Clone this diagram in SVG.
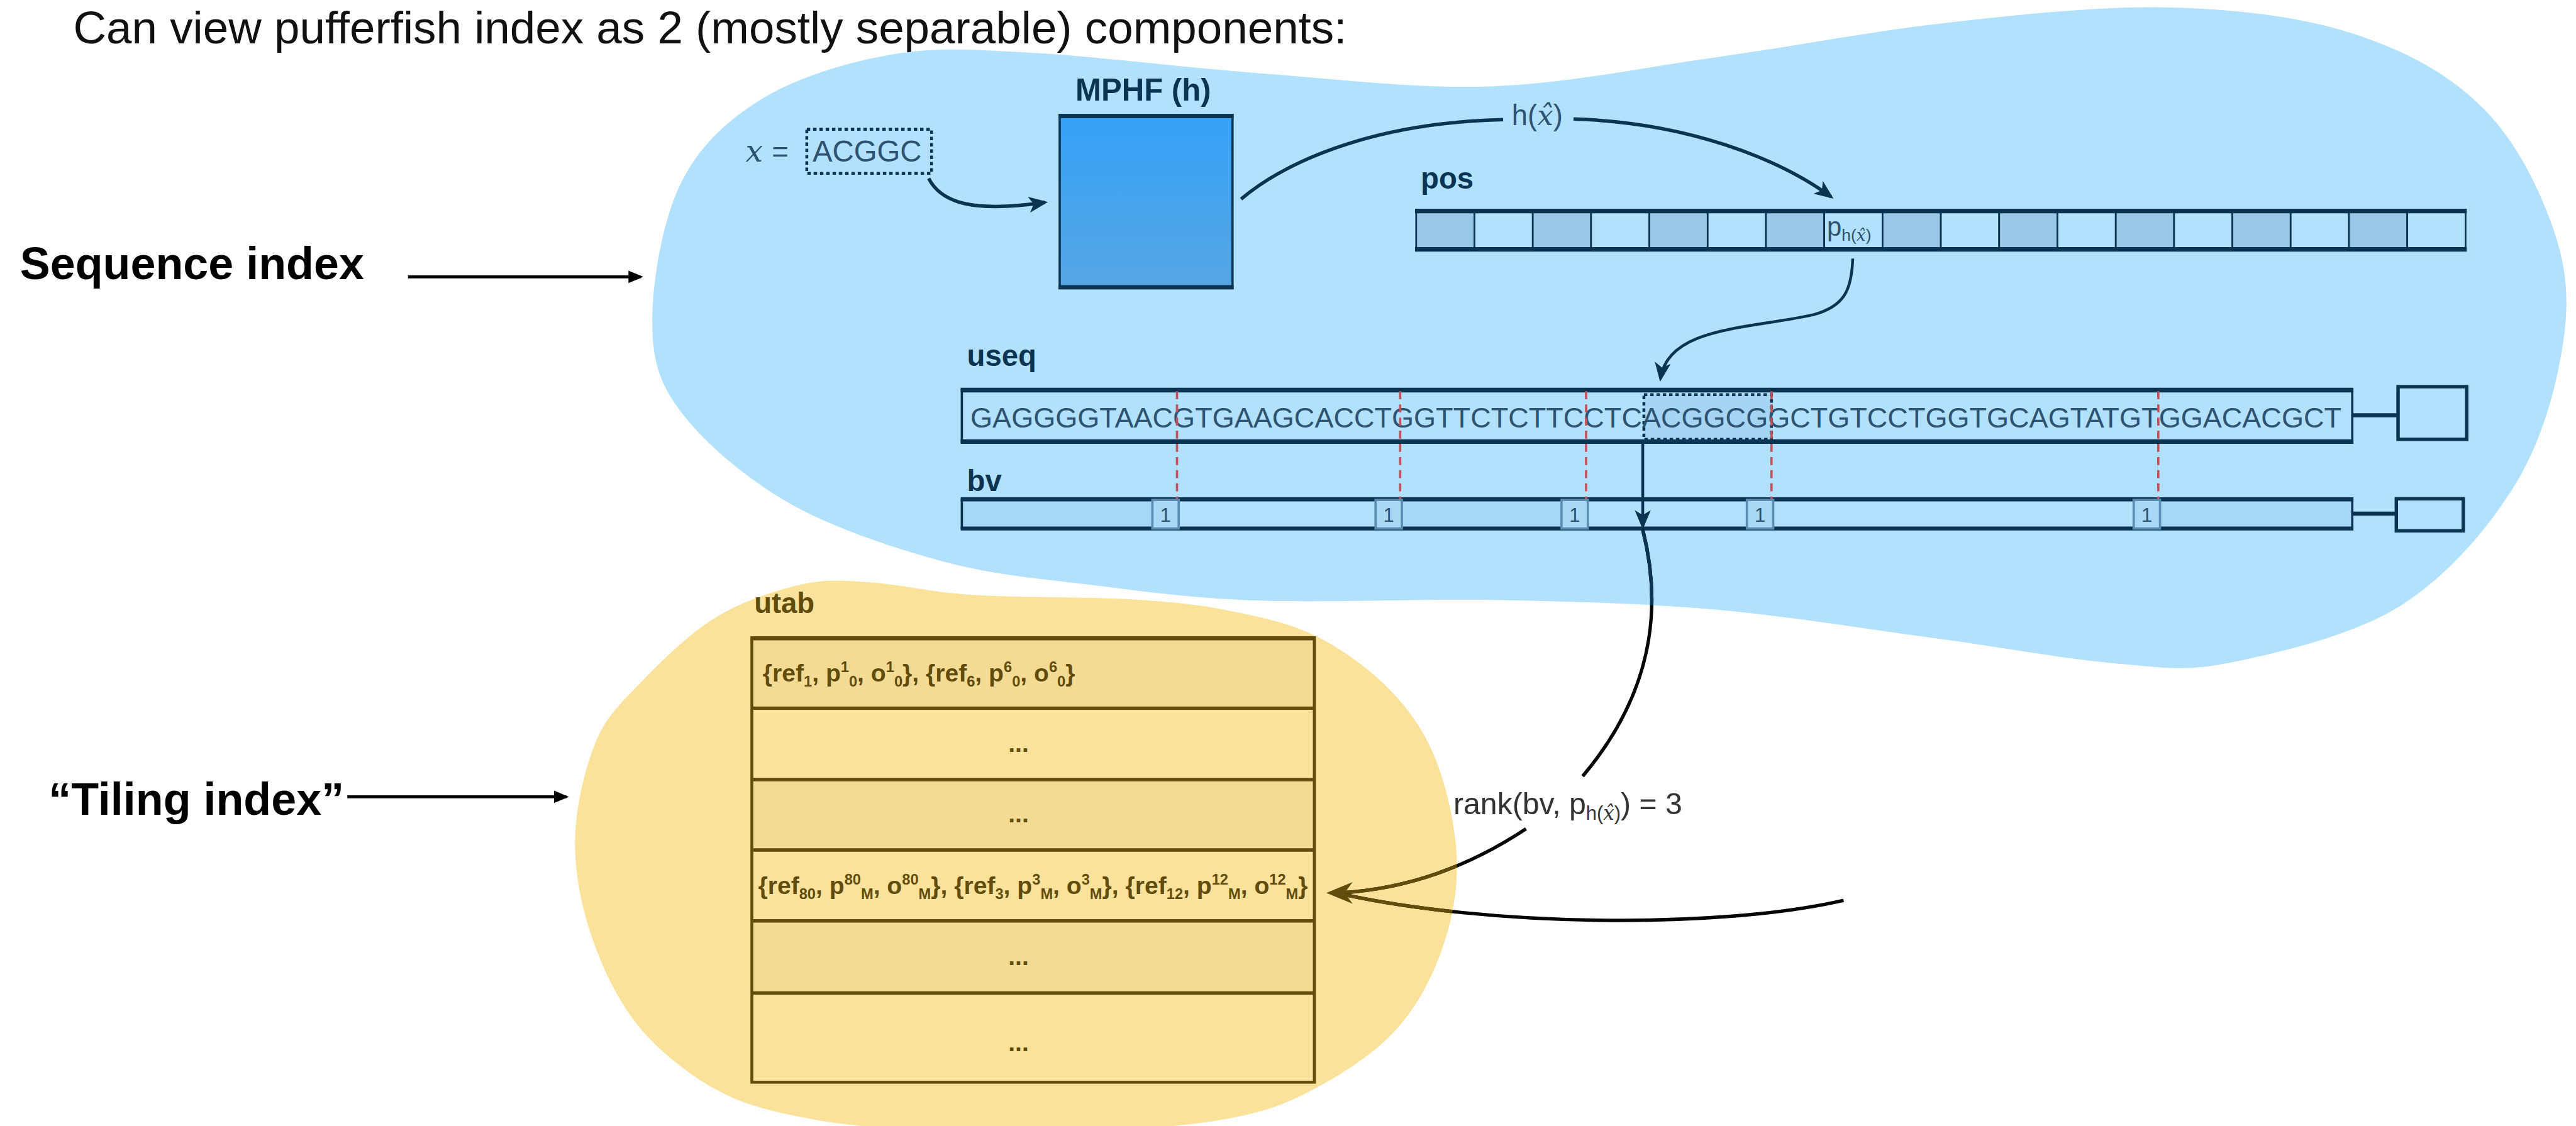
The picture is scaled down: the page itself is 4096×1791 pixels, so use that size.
<svg xmlns="http://www.w3.org/2000/svg" xmlns:xlink="http://www.w3.org/1999/xlink" width="4096" height="1791" viewBox="0 0 4096 1791">
  <style>
    .sans { font-family: 'Liberation Sans', Arial, sans-serif; }
    .bold { font-family: 'Liberation Sans', Arial, sans-serif; font-weight: 700; }
    .mi { font-family: 'DejaVu Serif', 'Liberation Serif', serif; font-style: italic; }
    .navy { fill: #0b3452; }
    .thin { font-family: 'Liberation Sans', Arial, sans-serif; fill: #2d5272; }
    .brown { fill: #614c0c; }
    .cell { font-family: 'Liberation Sans', Arial, sans-serif; font-weight: 700; font-size: 43px; fill: #614c0c; }
    .s { font-size: 26px; }
    .pos-dark { fill: #99c8e6; stroke: #0b3452; stroke-width: 3; }
    .pos-light { fill: #b2e1fb; stroke: #0b3452; stroke-width: 3; }
    .bv-dark { fill: #a6d7f4; }
    .bv-light { fill: #b2e1fc; }
    .one-box { fill: #a8d8f4; stroke: #5b8db4; stroke-width: 4; }
    .one { font-family: 'Liberation Sans', Arial, sans-serif; font-size: 34px; fill: #2d5272; text-anchor: middle; }
    .split { stroke: #c4505a; stroke-width: 4; stroke-dasharray: 14 9; fill: none; }
    .edge-navy { stroke: #0b3452; fill: none; }
    .row-dark { fill: #f4db94; }
    .row-light { fill: #fae29b; }
    .dots { font-family: 'Liberation Sans', Arial, sans-serif; font-weight: 700; font-size: 43px; fill: #614c0c; text-anchor: middle; }
  </style>
  <defs>
    <!-- outline of the sequence-index region -->
    <path id="blobBluePath" d="M 1140,560 C 1140,493.3 1157.8,384.7 1190,320 C 1222.2,255.3 1271.3,209.5 1333,172 C 1394.7,134.5 1482.2,108.3 1560,95 C 1637.8,81.7 1693.3,86.5 1800,92 C 1906.7,97.5 2065.8,118.2 2200,128 C 2334.2,137.8 2471.7,155.7 2605,151 C 2738.3,146.3 2867.5,118.5 3000,100 C 3132.5,81.5 3269.2,54.5 3400,40 C 3530.8,25.5 3668.3,10.5 3785,13 C 3901.7,15.5 4009.2,27.2 4100,55 C 4190.8,82.8 4270,122.5 4330,180 C 4389.2,234.2 4429.7,313.3 4455,380 C 4480.3,446.7 4491.2,503.3 4482,580 C 4472.8,656.7 4447.5,760.3 4400,840 C 4352.5,919.7 4280.3,1005 4197,1058 C 4113.7,1111 3982.8,1141 3900,1158 C 3817.2,1175 3786.2,1167 3700,1160 C 3613.8,1153 3499.7,1131.7 3383,1116 C 3266.3,1100.3 3127.2,1077.2 3000,1066 C 2872.8,1054.8 2753.3,1051.7 2620,1049 C 2486.7,1046.3 2318.2,1054.3 2200,1050 C 2081.8,1045.7 2002.7,1034.3 1911,1023 C 1819.3,1011.7 1738.5,1005.8 1650,982 C 1561.5,958.2 1456.7,923.7 1380,880 C 1303.3,836.3 1230,773.3 1190,720 C 1150,666.7 1140,626.7 1140,560 Z"/>
    <!-- outline of the tiling-index region -->
    <path id="blobYellowPath" d="M 1005,1470 C 1005.8,1413.3 1021.5,1345.5 1040,1300 C 1058.5,1254.5 1081,1233.7 1116,1197 C 1151,1160.3 1202.7,1109.2 1250,1080 C 1297.3,1050.8 1355,1032.3 1400,1022 C 1445,1011.7 1470,1015 1520,1018 C 1570,1021 1623.3,1035 1700,1040 C 1776.7,1045 1905,1043.3 1980,1048 C 2055,1052.7 2096.7,1057.3 2150,1068 C 2203.3,1078.7 2253.3,1088.8 2300,1112 C 2346.7,1135.2 2395,1170.7 2430,1207 C 2465,1243.3 2490.7,1280.7 2510,1330 C 2529.3,1379.3 2544.3,1448 2546,1503 C 2547.7,1558 2537.7,1610.5 2520,1660 C 2502.3,1709.5 2476.7,1759.7 2440,1800 C 2403.3,1840.3 2348.3,1876.2 2300,1902 C 2251.7,1927.8 2216.7,1942.3 2150,1955 C 2083.3,1967.7 1991.7,1974.7 1900,1978 C 1808.3,1981.3 1683.3,1979.2 1600,1975 C 1516.7,1970.8 1458.3,1964.8 1400,1953 C 1341.7,1941.2 1297.3,1930.5 1250,1904 C 1202.7,1877.5 1151.8,1838 1116,1794 C 1080.2,1750 1053.5,1694 1035,1640 C 1016.5,1586 1004.2,1526.7 1005,1470 Z"/>
    <clipPath id="clipBlue"><use xlink:href="#blobBluePath"/></clipPath>
    <clipPath id="clipYellow"><use xlink:href="#blobYellowPath"/></clipPath>
    <linearGradient id="mphfFill" x1="0" y1="0" x2="0" y2="1">
      <stop offset="0" stop-color="#36a2f7"/>
      <stop offset="1" stop-color="#56a5e2"/>
    </linearGradient>
    <marker id="ahNavy" viewBox="0 0 12 10" refX="10" refY="5" markerWidth="34" markerHeight="28" markerUnits="userSpaceOnUse" orient="auto">
      <path d="M0,0 L12,5 L0,10 L3,5 Z" fill="#0b3452"/>
    </marker>
    <marker id="ahBlack" viewBox="0 0 12 10" refX="10" refY="5" markerWidth="26" markerHeight="24" markerUnits="userSpaceOnUse" orient="auto">
      <path d="M0,0 L12,5 L0,10 Z" fill="#000"/>
    </marker>
    <!-- connector curves whose colour changes inside each region -->
    <path id="cRankA" d="M 2871,926 C 2905,1060 2890,1210 2766,1357"/>
    <path id="cRankB" d="M 2667,1449 C 2560,1520 2450,1555 2340,1561"/>
    <path id="cLookup" d="M 3222,1574 C 3000,1625 2600,1620 2340,1562"/>
  </defs>

  <rect x="0" y="0" width="4096" height="1791" fill="#ffffff"/>

  <g transform="scale(0.909818)">
    <!-- heading -->
    <g id="title">
      <text class="sans" x="128" y="76" font-size="80" fill="#111">Can view pufferfish index as 2 (mostly separable) components:</text>
    </g>

    <!-- regions -->
    <g id="region-sequence-index">
      <use xlink:href="#blobBluePath" fill="#b1e1fc"/>
    </g>
    <g id="region-tiling-index">
      <use xlink:href="#blobYellowPath" fill="#fae29b"/>
    </g>

    <!-- side labels -->
    <g id="label-sequence-index">
      <text class="bold" x="35" y="488" font-size="79" fill="#000">Sequence index</text>
    </g>
    <g id="label-tiling-index">
      <text class="bold" x="85" y="1425" font-size="79" fill="#000">“Tiling index”</text>
    </g>

    <!-- query k-mer -->
    <g id="node-query">
      <text class="mi" x="1303" y="283" font-size="54" fill="#2d5272">x</text>
      <text class="thin" x="1349" y="283" font-size="50">=</text>
      <rect x="1410" y="226" width="218" height="77" fill="none" stroke="#0b3452" stroke-width="5" stroke-dasharray="6 5"/>
      <text class="thin" x="1420" y="283" font-size="52">ACGGC</text>
    </g>

    <!-- minimal perfect hash function -->
    <g id="node-mphf">
      <text class="bold navy" x="1998" y="176" font-size="54" text-anchor="middle">MPHF (h)</text>
      <rect x="1852" y="201" width="302" height="303" fill="url(#mphfFill)" stroke="#0b3452" stroke-width="4"/>
      <line x1="1850" y1="203" x2="2156" y2="203" stroke="#0b3452" stroke-width="7"/>
      <line x1="1850" y1="502" x2="2156" y2="502" stroke="#0b3452" stroke-width="7"/>
    </g>

    <!-- hash value label on the MPHF -> pos edge -->
    <g id="label-hash">
      <text class="thin" x="2642" y="219" font-size="50">h(<tspan class="mi">x̂</tspan>)</text>
    </g>

    <!-- pos array -->
    <g id="node-pos">
      <text class="bold navy" x="2483" y="330" font-size="52">pos</text>
      <rect class="pos-dark" x="2475.0" y="368" width="101.9" height="69"/>
      <rect class="pos-light" x="2576.9" y="368" width="101.9" height="69"/>
      <rect class="pos-dark" x="2678.8" y="368" width="101.9" height="69"/>
      <rect class="pos-light" x="2780.7" y="368" width="101.9" height="69"/>
      <rect class="pos-dark" x="2882.6" y="368" width="101.9" height="69"/>
      <rect class="pos-light" x="2984.4" y="368" width="101.9" height="69"/>
      <rect class="pos-dark" x="3086.3" y="368" width="101.9" height="69"/>
      <rect class="pos-light" x="3188.2" y="368" width="101.9" height="69"/>
      <rect class="pos-dark" x="3290.1" y="368" width="101.9" height="69"/>
      <rect class="pos-light" x="3392.0" y="368" width="101.9" height="69"/>
      <rect class="pos-dark" x="3493.9" y="368" width="101.9" height="69"/>
      <rect class="pos-light" x="3595.8" y="368" width="101.9" height="69"/>
      <rect class="pos-dark" x="3697.7" y="368" width="101.9" height="69"/>
      <rect class="pos-light" x="3799.6" y="368" width="101.9" height="69"/>
      <rect class="pos-dark" x="3901.4" y="368" width="101.9" height="69"/>
      <rect class="pos-light" x="4003.3" y="368" width="101.9" height="69"/>
      <rect class="pos-dark" x="4105.2" y="368" width="101.9" height="69"/>
      <rect class="pos-light" x="4207.1" y="368" width="101.9" height="69"/>
      <line x1="2473" y1="369" x2="4311" y2="369" stroke="#0b3452" stroke-width="8"/>
      <line x1="2473" y1="436" x2="4311" y2="436" stroke="#0b3452" stroke-width="8"/>
      <text class="thin" x="3193" y="412" font-size="46">p<tspan font-size="29" dy="9">h(<tspan class="mi">x̂</tspan>)</tspan></text>
    </g>

    <!-- unitig sequence -->
    <g id="node-useq">
      <text class="bold navy" x="1690" y="640" font-size="52">useq</text>
      <rect x="1681" y="681" width="2430" height="92" fill="#b2e1fc" stroke="#0b3452" stroke-width="4"/>
      <line x1="1679" y1="682" x2="4113" y2="682" stroke="#0b3452" stroke-width="8"/>
      <line x1="1679" y1="772" x2="4113" y2="772" stroke="#0b3452" stroke-width="8"/>
      <rect x="2873" y="690" width="223" height="78" fill="#a5d5f2" stroke="#0b3452" stroke-width="5" stroke-dasharray="6 5"/>
      <text class="thin" x="1696" y="747" font-size="49.5" textLength="2396" lengthAdjust="spacing">GAGGGGTAACGTGAAGCACCTGGTTCTCTTCCTCACGGCGGCTGTCCTGGTGCAGTATGTGGACACGCT</text>
      <line x1="4111" y1="726" x2="4191" y2="726" stroke="#0b3452" stroke-width="7"/>
      <rect x="4191" y="676" width="120" height="92" fill="none" stroke="#0b3452" stroke-width="6"/>
    </g>

    <!-- boundary bit vector -->
    <g id="node-bv">
      <text class="bold navy" x="1690" y="858" font-size="52">bv</text>
      <rect class="bv-dark" x="1681" y="872" width="333" height="53"/>
      <rect class="bv-light" x="2060" y="872" width="344" height="53"/>
      <rect class="bv-dark" x="2450" y="872" width="279" height="53"/>
      <rect class="bv-light" x="2775" y="872" width="278" height="53"/>
      <rect class="bv-light" x="3099" y="872" width="630" height="53"/>
      <rect class="bv-dark" x="3775" y="872" width="336" height="53"/>
      <line x1="1681" y1="872" x2="1681" y2="925" stroke="#0b3452" stroke-width="4"/>
      <line x1="4111" y1="872" x2="4111" y2="925" stroke="#0b3452" stroke-width="4"/>
      <line x1="1679" y1="873" x2="4113" y2="873" stroke="#0b3452" stroke-width="7"/>
      <line x1="1679" y1="924" x2="4113" y2="924" stroke="#0b3452" stroke-width="7"/>
      <g>
        <line class="split" x1="2057" y1="684" x2="2057" y2="925"/>
        <line class="split" x1="2447" y1="684" x2="2447" y2="925"/>
        <line class="split" x1="2772" y1="684" x2="2772" y2="925"/>
        <line class="split" x1="3096" y1="684" x2="3096" y2="925"/>
        <line class="split" x1="3772" y1="684" x2="3772" y2="925"/>
      </g>
      <rect class="one-box" x="2014" y="874" width="46" height="50"/>
      <rect class="one-box" x="2404" y="874" width="46" height="50"/>
      <rect class="one-box" x="2729" y="874" width="46" height="50"/>
      <rect class="one-box" x="3053" y="874" width="46" height="50"/>
      <rect class="one-box" x="3729" y="874" width="46" height="50"/>
      <text class="one" x="2037" y="912">1</text>
      <text class="one" x="2427" y="912">1</text>
      <text class="one" x="2752" y="912">1</text>
      <text class="one" x="3076" y="912">1</text>
      <text class="one" x="3752" y="912">1</text>
      <line x1="4111" y1="898" x2="4188" y2="898" stroke="#0b3452" stroke-width="7"/>
      <rect x="4188" y="872" width="117" height="56" fill="none" stroke="#0b3452" stroke-width="6"/>
    </g>

    <!-- unitig table -->
    <g id="node-utab">
      <text class="bold brown" x="1318" y="1072" font-size="50">utab</text>
      <rect class="row-dark" x="1314" y="1115" width="983" height="123"/>
      <rect class="row-light" x="1314" y="1238" width="983" height="125"/>
      <rect class="row-dark" x="1314" y="1363" width="983" height="123"/>
      <rect class="row-light" x="1314" y="1486" width="983" height="124"/>
      <rect class="row-dark" x="1314" y="1610" width="983" height="126"/>
      <rect class="row-light" x="1314" y="1736" width="983" height="156"/>
      <rect x="1314" y="1115" width="983" height="777" fill="none" stroke="#614c0c" stroke-width="5"/>
      <line x1="1312" y1="1116" x2="2299" y2="1116" stroke="#614c0c" stroke-width="7"/>
      <line x1="1314" y1="1238" x2="2297" y2="1238" stroke="#614c0c" stroke-width="6"/>
      <line x1="1314" y1="1363" x2="2297" y2="1363" stroke="#614c0c" stroke-width="6"/>
      <line x1="1314" y1="1486" x2="2297" y2="1486" stroke="#614c0c" stroke-width="6"/>
      <line x1="1314" y1="1610" x2="2297" y2="1610" stroke="#614c0c" stroke-width="6"/>
      <line x1="1314" y1="1736" x2="2297" y2="1736" stroke="#614c0c" stroke-width="6"/>
      <text class="cell" x="1333" y="1191">{ref<tspan class="s" dy="9">1</tspan><tspan dy="-9">, p</tspan><tspan class="s" dy="-16">1</tspan><tspan class="s" dy="25">0</tspan><tspan dy="-9">, o</tspan><tspan class="s" dy="-16">1</tspan><tspan class="s" dy="25">0</tspan><tspan dy="-9">}, {ref</tspan><tspan class="s" dy="9">6</tspan><tspan dy="-9">, p</tspan><tspan class="s" dy="-16">6</tspan><tspan class="s" dy="25">0</tspan><tspan dy="-9">, o</tspan><tspan class="s" dy="-16">6</tspan><tspan class="s" dy="25">0</tspan><tspan dy="-9">}</tspan></text>
      <text class="dots" x="1780" y="1314">...</text>
      <text class="dots" x="1780" y="1438">...</text>
      <text class="cell" x="1325" y="1563">{ref<tspan class="s" dy="9">80</tspan><tspan dy="-9">, p</tspan><tspan class="s" dy="-16">80</tspan><tspan class="s" dy="25">M</tspan><tspan dy="-9">, o</tspan><tspan class="s" dy="-16">80</tspan><tspan class="s" dy="25">M</tspan><tspan dy="-9">}, {ref</tspan><tspan class="s" dy="9">3</tspan><tspan dy="-9">, p</tspan><tspan class="s" dy="-16">3</tspan><tspan class="s" dy="25">M</tspan><tspan dy="-9">, o</tspan><tspan class="s" dy="-16">3</tspan><tspan class="s" dy="25">M</tspan><tspan dy="-9">}, {ref</tspan><tspan class="s" dy="9">12</tspan><tspan dy="-9">, p</tspan><tspan class="s" dy="-16">12</tspan><tspan class="s" dy="25">M</tspan><tspan dy="-9">, o</tspan><tspan class="s" dy="-16">12</tspan><tspan class="s" dy="25">M</tspan><tspan dy="-9">}</tspan></text>
      <text class="dots" x="1780" y="1687">...</text>
      <text class="dots" x="1780" y="1838">...</text>
    </g>

    <!-- rank query label -->
    <g id="label-rank">
      <text class="sans" x="2540" y="1423" font-size="53" fill="#333">rank(bv, p<tspan font-size="34" dy="10">h(<tspan class="mi">x̂</tspan>)</tspan><tspan dy="-10">) = 3</tspan></text>
    </g>

    <!-- connectors -->
    <g id="connectors" fill="none">
      <line x1="713" y1="484" x2="1120" y2="484" stroke="#000" stroke-width="5" marker-end="url(#ahBlack)"/>
      <line x1="607" y1="1393" x2="990" y2="1393" stroke="#000" stroke-width="5" marker-end="url(#ahBlack)"/>
      <path class="edge-navy" stroke-width="6" d="M 1623,312 C 1645,355 1700,372 1826,354" marker-end="url(#ahNavy)"/>
      <path class="edge-navy" stroke-width="6" d="M 2169,348 C 2260,272 2420,214 2627,209"/>
      <path class="edge-navy" stroke-width="6" d="M 2750,208 C 2950,214 3110,278 3200,344" marker-end="url(#ahNavy)"/>
      <path class="edge-navy" stroke-width="5" d="M 3238,452 C 3236,505 3225,535 3170,550 C 3060,575 2915,570 2902,662" marker-end="url(#ahNavy)"/>
      <line class="edge-navy" stroke-width="5" x1="2871" y1="775" x2="2871" y2="920" marker-end="url(#ahNavy)"/>
      <use xlink:href="#cRankA" stroke="#050505" stroke-width="6"/>
      <use xlink:href="#cRankA" stroke="#0b3452" stroke-width="6" clip-path="url(#clipBlue)"/>
      <use xlink:href="#cRankB" stroke="#050505" stroke-width="6"/>
      <use xlink:href="#cRankB" stroke="#614c0c" stroke-width="6" clip-path="url(#clipYellow)"/>
      <use xlink:href="#cLookup" stroke="#050505" stroke-width="6"/>
      <use xlink:href="#cLookup" stroke="#614c0c" stroke-width="6" clip-path="url(#clipYellow)"/>
      <polygon points="2318,1561 2364,1542 2350,1561 2364,1580" fill="#614c0c"/>
    </g>
  </g>
</svg>
